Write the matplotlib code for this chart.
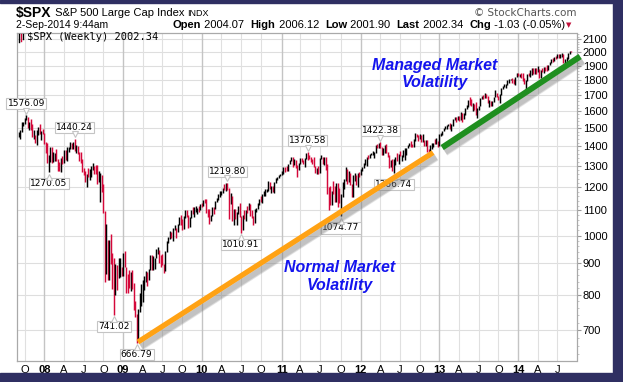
import numpy as np
import pandas as pd
import matplotlib
matplotlib.use("Agg")
import matplotlib.pyplot as plt
import matplotlib.patheffects as pe
from matplotlib.patches import Rectangle
from matplotlib.transforms import offset_copy
from matplotlib.ticker import NullFormatter

# -----------------------------
# Weekly $SPX bars (close / high / low), weeks ending Fri 7-Sep-2007 .. 2-Sep-2014
# -----------------------------
FIRST_WEEK = "2007-09-07"

c07 = [1453.55, 1484.25, 1525.75, 1526.75, 1557.59, 1561.80, 1500.63, 1535.28, 1509.65, 1453.70,
       1458.74, 1440.70, 1481.14, 1504.66, 1467.95, 1484.46, 1478.49]
h07 = [1481, 1488, 1538, 1533, 1561, 1576.1, 1563, 1537, 1552, 1521, 1492, 1462, 1488, 1508, 1523, 1485, 1498]
l07 = [1449, 1439, 1477, 1510, 1521, 1545, 1500, 1490, 1490, 1450, 1438, 1417, 1406, 1460, 1465, 1435, 1469]

c08 = [1411.63, 1401.02, 1325.19, 1330.61, 1395.42, 1331.29, 1349.99, 1353.11, 1330.63, 1293.37,
       1288.14, 1329.51, 1315.22, 1370.40, 1332.83, 1390.33, 1397.84, 1413.90, 1388.28, 1425.35,
       1375.93, 1400.38, 1360.68, 1360.03, 1317.93, 1278.38, 1262.90, 1239.49, 1260.68, 1257.76,
       1260.31, 1296.32, 1298.20, 1292.20, 1282.83, 1242.31, 1251.70, 1255.08, 1213.27, 1099.23,
       899.22, 940.55, 876.77, 968.75, 930.99, 873.29, 800.03, 896.24, 876.07, 879.73, 887.88, 872.80]
h08 = [1471, 1422, 1420, 1355, 1397, 1396, 1371, 1368, 1389, 1335, 1321, 1341, 1352, 1381, 1379, 1395,
       1399, 1422, 1416, 1426, 1440.2, 1406, 1404, 1370, 1370, 1335, 1290, 1274, 1262, 1290, 1285, 1300,
       1314, 1298, 1304, 1303, 1275, 1265, 1255, 1214, 1098, 1044, 985, 984, 1007, 935, 917, 897, 896,
       918, 918, 888]
l08 = [1411, 1364, 1313, 1270.05, 1322, 1316, 1320, 1325, 1326, 1275, 1274, 1272, 1312, 1315, 1328, 1324,
       1370, 1386, 1384, 1386, 1374, 1364, 1359, 1327, 1317, 1272, 1257, 1225, 1200, 1248, 1234, 1247,
       1283, 1261, 1262, 1217, 1225, 1133, 1179, 1089, 839, 866, 845, 845, 897, 818, 741.02, 799, 815,
       851, 855, 857]

c09 = [931.80, 890.35, 850.12, 831.95, 825.88, 868.60, 826.84, 770.05, 735.09, 683.38, 756.55, 768.54,
       815.94, 842.50, 856.56, 869.60, 866.23, 877.52, 929.23, 882.88, 887.00, 919.14, 940.09, 946.21,
       921.23, 918.90, 896.42, 879.13, 940.38, 979.26, 987.48, 1010.48, 1004.09, 1026.13, 1028.93,
       1016.40, 1042.73, 1068.30, 1044.38, 1025.21, 1071.49, 1087.68, 1079.60, 1036.19, 1069.30,
       1093.48, 1091.38, 1091.49, 1105.98, 1106.41, 1102.47, 1126.48, 1115.10]
h09 = [935, 943, 888, 865, 877, 870, 877, 835, 780, 743, 758, 804, 832, 845, 857, 875, 871, 880, 930,
       930, 924, 920, 951, 956, 946, 928, 931, 898, 943, 980, 996, 1018, 1012, 1028, 1039, 1028, 1045,
       1074, 1080, 1065, 1076, 1101, 1101, 1081, 1071, 1101, 1113, 1112, 1119, 1108, 1117, 1128, 1130]
l09 = [857, 888, 804, 804, 821, 812, 818, 754, 734, 666.79, 672, 748, 767, 779, 814, 840, 826, 846, 877,
       878, 879, 881, 918, 932, 903, 888, 895, 869, 875, 940, 971, 988, 991, 978, 1021, 991, 1012, 1040,
       1041, 1020, 1025, 1070, 1074, 1029, 1033, 1070, 1086, 1073, 1092, 1086, 1095, 1102, 1115]

c10 = [1144.98, 1136.03, 1091.76, 1073.87, 1066.19, 1075.51, 1109.17, 1104.49, 1138.70, 1149.99,
       1159.90, 1166.59, 1178.10, 1194.37, 1192.13, 1217.28, 1186.69, 1110.88, 1135.68, 1087.69,
       1089.41, 1064.88, 1091.60, 1117.51, 1076.76, 1022.58, 1077.96, 1064.88, 1102.66, 1101.60,
       1121.64, 1079.25, 1071.69, 1064.59, 1104.51, 1109.55, 1125.59, 1148.67, 1146.24, 1165.15,
       1176.19, 1183.08, 1183.26, 1225.85, 1199.21, 1199.73, 1189.40, 1224.71, 1240.40, 1243.91,
       1256.77, 1257.64]
h10 = [1145, 1150, 1150, 1104, 1104, 1080, 1112, 1112, 1140, 1151, 1170, 1181, 1181, 1195, 1214, 1218,
       1219.8, 1197, 1174, 1163, 1104, 1105, 1093, 1120, 1131, 1075, 1079, 1100, 1103, 1120, 1130, 1128,
       1100, 1077, 1105, 1111, 1131, 1149, 1160, 1168, 1184, 1190, 1190, 1227, 1226, 1207, 1206, 1226,
       1241, 1247, 1259, 1262]
l10 = [1116, 1131, 1090, 1071, 1044, 1056, 1076, 1086, 1105, 1136, 1144, 1155, 1165, 1175, 1188, 1183,
       1186, 1066, 1127, 1056, 1040, 1063, 1042, 1086, 1071, 1010.91, 1023, 1063, 1057, 1089, 1103, 1075,
       1068, 1040, 1048, 1092, 1107, 1122, 1136, 1132, 1159, 1159, 1177, 1181, 1194, 1173, 1178, 1174,
       1221, 1233, 1241, 1254]

c11 = [1271.50, 1293.24, 1283.35, 1276.34, 1310.87, 1329.15, 1343.01, 1319.88, 1321.15, 1304.28,
       1279.21, 1313.80, 1332.41, 1328.17, 1319.68, 1337.38, 1363.61, 1340.20, 1337.77, 1333.27,
       1331.10, 1300.16, 1270.98, 1271.50, 1268.45, 1339.67, 1343.80, 1316.14, 1345.02, 1292.28,
       1199.38, 1178.81, 1123.53, 1176.80, 1173.97, 1154.23, 1216.01, 1136.43, 1131.42, 1155.46,
       1224.58, 1238.25, 1285.09, 1253.23, 1263.85, 1215.65, 1158.67, 1244.28, 1255.19, 1219.66,
       1265.33, 1257.60]
h11 = [1278, 1294, 1296, 1302, 1311, 1330, 1344, 1343, 1336, 1332, 1303, 1315, 1338, 1340, 1329, 1338,
       1364, 1370.58, 1356, 1346, 1334, 1345, 1302, 1292, 1299, 1341, 1356, 1344, 1347, 1345, 1308, 1199,
       1208, 1182, 1230, 1205, 1220, 1220, 1195, 1171, 1225, 1239, 1293, 1285, 1277, 1265, 1215, 1255,
       1267, 1255, 1266, 1269]
l11 = [1257, 1262, 1271, 1275, 1276, 1308, 1325, 1294, 1304, 1291, 1249, 1282, 1308, 1322, 1309, 1295,
       1335, 1330, 1334, 1318, 1311, 1297, 1268, 1262, 1263, 1268, 1333, 1309, 1306, 1283, 1168, 1101,
       1121, 1124, 1169, 1136, 1136, 1114, 1130, 1074.77, 1157, 1191, 1231, 1215, 1226, 1209, 1158, 1158,
       1228, 1209, 1203, 1248]

c12 = [1277.81, 1289.09, 1315.38, 1316.33, 1344.90, 1342.64, 1361.23, 1365.74, 1369.63, 1370.87,
       1404.17, 1397.11, 1408.47, 1398.08, 1370.26, 1378.53, 1403.36, 1369.10, 1353.39, 1295.22,
       1317.82, 1278.04, 1325.66, 1342.84, 1335.02, 1362.16, 1354.68, 1356.78, 1362.66, 1385.97,
       1390.99, 1405.87, 1418.16, 1411.13, 1406.58, 1437.92, 1465.77, 1460.15, 1440.67, 1460.93,
       1428.59, 1433.19, 1411.94, 1414.20, 1379.85, 1359.88, 1409.15, 1416.18, 1418.07, 1413.58,
       1430.15, 1402.43]
h12 = [1285, 1297, 1316, 1334, 1346, 1354, 1362, 1368, 1378, 1372, 1405, 1415, 1419, 1422.38, 1398, 1392,
       1406, 1415, 1370, 1354, 1328, 1334, 1335, 1343, 1364, 1363, 1375, 1357, 1380, 1390, 1392, 1406,
       1419, 1427, 1414, 1438, 1475, 1467, 1460, 1470, 1464, 1465, 1435, 1434, 1433, 1389, 1410, 1420,
       1420, 1439, 1448, 1431]
l12 = [1259, 1275, 1290, 1306, 1300, 1335, 1340, 1355, 1354, 1340, 1368, 1390, 1392, 1394, 1358, 1357,
       1366, 1367, 1343, 1292, 1295, 1277, 1266.74, 1306, 1324, 1309, 1352, 1325, 1345, 1329, 1354, 1390,
       1400, 1398, 1397, 1396, 1428, 1449, 1430, 1439, 1425, 1426, 1403, 1403, 1373, 1343, 1360, 1385,
       1398, 1411, 1413, 1398]

c13 = [1466.47, 1472.05, 1485.98, 1502.96, 1513.17, 1517.93, 1519.79, 1515.60, 1518.20, 1551.18,
       1560.70, 1556.89, 1569.19, 1553.28, 1588.85, 1555.25, 1582.24, 1614.42, 1633.70, 1667.47,
       1649.60, 1630.74, 1643.38, 1626.73, 1592.43, 1606.28, 1631.89, 1680.19, 1692.09, 1691.65,
       1709.67, 1691.42, 1655.83, 1663.50, 1632.97, 1655.17, 1687.99, 1709.91, 1691.75, 1690.50,
       1703.20, 1744.50, 1759.77, 1761.64, 1770.61, 1798.18, 1804.76, 1805.81, 1805.09, 1775.32,
       1818.32, 1841.40]
h13 = [1467, 1473, 1486, 1503, 1514, 1518, 1525, 1530, 1525, 1552, 1564, 1564, 1570, 1573, 1594, 1589,
       1587, 1618, 1635, 1668, 1687, 1674, 1648, 1645, 1655, 1620, 1632, 1681, 1693, 1698, 1710, 1709,
       1695, 1669, 1664, 1664, 1690, 1730, 1712, 1696, 1704, 1745, 1760, 1775, 1775, 1799, 1805, 1808,
       1811, 1809, 1823, 1844]
l13 = [1401, 1456, 1461, 1485, 1496, 1495, 1514, 1497, 1485, 1512, 1547, 1538, 1546, 1539, 1548, 1537,
       1554, 1579, 1614, 1622, 1635, 1630, 1599, 1608, 1577, 1560, 1605, 1632, 1672, 1676, 1680, 1684,
       1652, 1627, 1628, 1633, 1656, 1688, 1687, 1670, 1647, 1700, 1740, 1752, 1746, 1768, 1780, 1800,
       1780, 1772, 1767, 1819]

c14 = [1831.37, 1842.37, 1838.70, 1790.29, 1782.59, 1797.02, 1838.63, 1836.25, 1859.45, 1878.04,
       1841.13, 1866.52, 1857.62, 1865.09, 1815.69, 1864.85, 1863.40, 1881.14, 1878.48, 1877.86,
       1900.53, 1923.57, 1949.44, 1936.16, 1962.87, 1960.96, 1985.44, 1967.57, 1978.22, 1978.34,
       1925.15, 1931.59, 1955.06, 1988.40, 2003.37, 2002.34]
h14 = [1850, 1843, 1850, 1845, 1815, 1798, 1840, 1847, 1868, 1884, 1882, 1884, 1883, 1897, 1873, 1865,
       1884, 1891, 1889, 1902, 1901, 1924, 1950, 1956, 1964, 1968, 1986, 1985, 1984, 1991, 1985, 1945,
       1964, 1993, 2005, 2006.12]
l14 = [1828, 1823, 1815, 1790, 1770, 1738, 1791, 1824, 1823, 1834, 1839, 1840, 1840, 1857, 1814, 1815,
       1856, 1850, 1859, 1862, 1868, 1901, 1915, 1925, 1930, 1944, 1958, 1952, 1955, 1965, 1916, 1905,
       1928, 1951, 1986, 2001.9]

# labelled swing highs / lows: (week, value, side)
SWINGS = [("2007-10-12", 1576.09, "up"), ("2008-01-25", 1270.05, "down"), ("2008-05-23", 1440.24, "up"),
          ("2008-11-21", 741.02, "down"), ("2009-03-06", 666.79, "down"), ("2010-04-30", 1219.80, "up"),
          ("2010-07-02", 1010.91, "down"), ("2011-05-06", 1370.58, "up"), ("2011-10-07", 1074.77, "down"),
          ("2012-04-05", 1422.38, "up"), ("2012-06-08", 1266.74, "down")]

# hand-drawn trend lines
NORMAL_DATES = ["2009-03-12", "2012-12-06"]
NORMAL_VALUES = [669, 1368]
MANAGED_DATES = ["2013-01-17", "2014-10-17"]
MANAGED_VALUES = [1394, 1966]

Y_TICKS = list(range(700, 2200, 100))
MONTH_LETTER = {1: None, 4: "A", 7: "J", 10: "O"}

# -----------------------------
# Assemble
# -----------------------------
close = np.array(c07 + c08 + c09 + c10 + c11 + c12 + c13 + c14)
high = np.array(h07 + h08 + h09 + h10 + h11 + h12 + h13 + h14)
low = np.array(l07 + l08 + l09 + l10 + l11 + l12 + l13 + l14)
dates = pd.date_range(FIRST_WEEK, periods=len(close), freq="W-FRI")
idx = np.arange(len(close))


def week_pos(d):
    return (pd.Timestamp(d) - dates[0]).days / 7.0


UP, DOWN = "#000000", "#d4083a"
prev = np.concatenate([[close[0] - 1], close[:-1]])
colors = np.where(close >= prev, UP, DOWN)

W, H = 623, 382
fig = plt.figure(figsize=(W / 100, H / 100), dpi=100)
fig.patch.set_facecolor("white")


def fx(px):
    return px / W


def fy(py):
    return 1 - py / H


ax = fig.add_axes([fx(16.7), fy(361), fx(576.5) - fx(16.7), fy(32.7) - fy(361)])
ax.set_yscale("log")
ax.set_ylim(622.7, 2151)
ax.set_xlim(-1.26, 368.6)

# grid
for v in Y_TICKS:
    ax.axhline(v, color="#dedede", lw=0.8, zorder=0)

tick_pos, tick_lab = [], []
for i in range(1, len(dates)):
    m = dates[i].month
    if m != dates[i - 1].month and m in MONTH_LETTER:
        tick_pos.append(i)
        tick_lab.append(MONTH_LETTER[m] or dates[i].strftime("%y"))
for p, lab in zip(tick_pos, tick_lab):
    year_line = lab.isdigit()
    ax.axvline(p, color="#c4c4c4" if year_line else "#e0e0e0", lw=1.0 if year_line else 0.8, zorder=0)

# weekly bars
ax.vlines(idx, low, high, colors=colors, lw=1.05, zorder=2)

# swing labels
for d, v, side in SWINGS:
    p = week_pos(d)
    sgn = 1 if side == "up" else -1
    ax.annotate(f"{v:.2f}", xy=(p, v), xytext=(0, sgn * 11.5), textcoords="offset pixels",
                ha="center", va="center", fontsize=6.5, family="DejaVu Sans", zorder=4,
                bbox=dict(boxstyle="square,pad=0.12", fc="white", ec="#c4c4c4", lw=0.8))
    tr = offset_copy(ax.transData, fig=fig, x=0, y=sgn * 4.5, units="dots")
    ax.plot(p, v, marker="v" if side == "up" else "^", ms=4, mfc="white", mec="#c4c4c4",
            mew=0.8, transform=tr, zorder=4.5, clip_on=False)

# trend lines with a soft grey shadow
shadow = [pe.SimpleLineShadow(offset=(1.5, -2.5), shadow_color="#808080", alpha=0.12, linewidth=8),
          pe.SimpleLineShadow(offset=(2.0, -3.0), shadow_color="#808080", alpha=0.18, linewidth=6),
          pe.SimpleLineShadow(offset=(2.3, -3.3), shadow_color="#707070", alpha=0.22, linewidth=4),
          pe.Normal()]
ax.plot([week_pos(d) for d in NORMAL_DATES], NORMAL_VALUES, color="#ffa214", lw=3.8,
        solid_capstyle="butt", zorder=5, path_effects=shadow)
ax.plot([week_pos(d) for d in MANAGED_DATES], MANAGED_VALUES, color="#1f8f1f", lw=4.3,
        solid_capstyle="butt", zorder=5, path_effects=shadow, clip_on=False)

# annotations
ax.text((435 - 16.7) / 559.8, (361 - 74) / 328.3, "Managed Market\nVolatility",
        transform=ax.transAxes, ha="center", va="center", color="#1414ee", fontsize=11.5,
        family="Liberation Sans", weight="bold", style="italic", zorder=6)
ax.text((340 - 16.7) / 559.8, (361 - 276.5) / 328.3, "Normal Market\nVolatility",
        transform=ax.transAxes, ha="center", va="center", color="#1414ee", fontsize=11.5,
        family="Liberation Sans", weight="bold", style="italic", zorder=6)

# in-chart legend
ax.text(0.019, 0.986, "$SPX (Weekly) 2002.34", transform=ax.transAxes, ha="left", va="center",
        fontsize=7.5, family="DejaVu Sans Mono", zorder=6)
for k, (dx, c) in enumerate([(0.004, UP), (0.008, DOWN), (0.012, UP)]):
    ax.plot([dx, dx], [0.972 + 0.004 * k, 0.996], transform=ax.transAxes, color=c, lw=1.0, zorder=6)

# axes styling
for s in ax.spines.values():
    s.set_color("#a9a9a9")
    s.set_linewidth(0.9)
ax.yaxis.tick_right()
ax.set_yticks(Y_TICKS)
ax.set_yticklabels([str(v) for v in Y_TICKS])
ax.set_yticks([v for v in range(640, 2160, 20) if v % 100], minor=True)
ax.yaxis.set_minor_formatter(NullFormatter())
ax.tick_params(axis="y", which="major", length=3, color="#999999", pad=1.5, labelsize=8)
ax.tick_params(axis="y", which="minor", length=1.5, color="#bbbbbb")
ax.set_xticks(tick_pos)
ax.set_xticklabels(tick_lab)
ax.tick_params(axis="x", length=0, pad=3, labelsize=8)
for t in ax.get_xticklabels() + ax.get_yticklabels():
    t.set_family("Liberation Sans")
for t in ax.get_xticklabels():
    if t.get_text().isdigit():
        t.set_fontweight("bold")

# header
renderer = fig.canvas.get_renderer()


def run_text(parts, x0, y, right=False, **kw):
    items = [fig.text(0, fy(y), s, va="center", family="Liberation Sans", **dict(kw, **o))
             for s, o in parts]
    widths = [t.get_window_extent(renderer=renderer).width for t in items]
    x = x0 - sum(widths) if right else x0
    for t, w in zip(items, widths):
        t.set_x(fx(x))
        x += w
    return x


run_text([("$SPX", dict(fontsize=10, weight="bold")), (" S&P 500 Large Cap Index ", dict(fontsize=8)),
          ("INDX", dict(fontsize=6.5))], 16, 13)
fig.text(fx(16), fy(25), "2-Sep-2014 9:44am", va="center", fontsize=7.5, family="Liberation Sans")
run_text([("Open", dict(weight="bold")), (" 2004.07  ", {}), ("High", dict(weight="bold")),
          (" 2006.12  ", {}), ("Low", dict(weight="bold")), (" 2001.90  ", {}),
          ("Last", dict(weight="bold")), (" 2002.34  ", {}), ("Chg", dict(weight="bold")),
          (" -1.03 (-0.05%)", {})], 565, 25, right=True, fontsize=8)
fig.text(fx(569), fy(25), "\u25BC", va="center", ha="center", fontsize=5, color="#c0103a",
         family="DejaVu Sans")
fig.text(fx(577), fy(13), "\u00A9 StockCharts.com", ha="right", va="center", fontsize=7.5,
         color="#555555", family="DejaVu Sans")

# dark frame (top, right, bottom)
NAVY = "#2f2f62"
for r in [(0, fy(3), 1, 3 / H), (fx(613), 0, 10 / W, 1), (0, 0, 1, 9.3 / H)]:
    fig.patches.append(Rectangle((r[0], r[1]), r[2], r[3], transform=fig.transFigure,
                                 color=NAVY, zorder=10))

fig.savefig("out.png", dpi=100)
